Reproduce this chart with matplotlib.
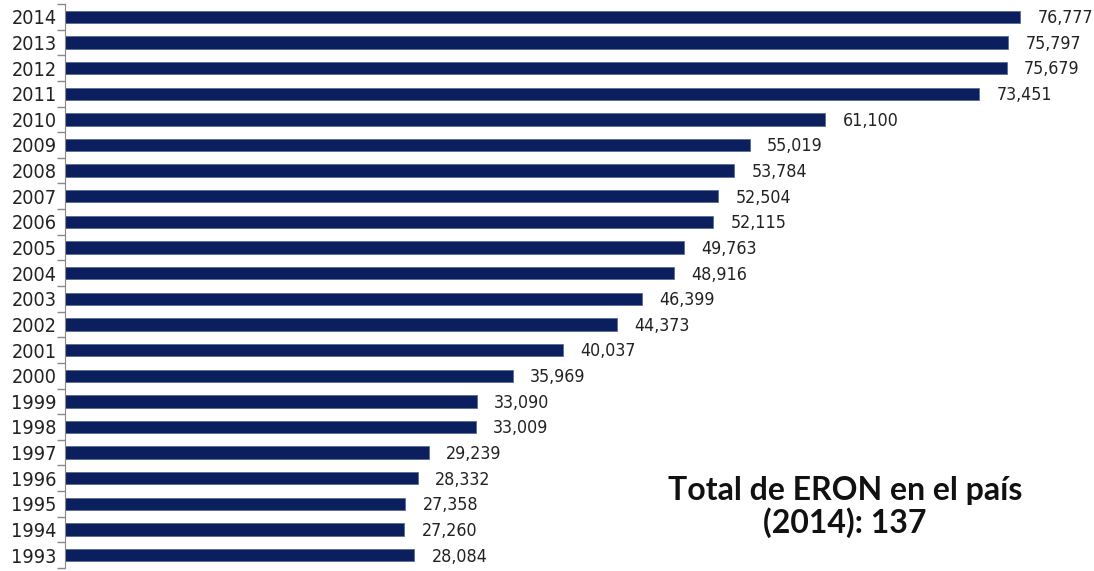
import matplotlib.pyplot as plt
from matplotlib import font_manager
import numpy as np

years = [1993, 1994, 1995, 1996, 1997, 1998, 1999, 2000, 2001, 2002, 2003,
         2004, 2005, 2006, 2007, 2008, 2009, 2010, 2011, 2012, 2013, 2014]
values = [28084, 27260, 27358, 28332, 29239, 33009, 33090, 35969, 40037,
          44373, 46399, 48916, 49763, 52115, 52504, 53784, 55019, 61100,
          73451, 75679, 75797, 76777]
note = "Total de ERON en el país\n(2014): 137"

# look for a condensed/narrow face, the reference uses an Arial Narrow look
narrow_family, narrow_stretch, size_scale = 'Liberation Sans', 'normal', 0.9
for f in font_manager.fontManager.ttflist:
    if 'Narrow' in f.name and 'Liberation' in f.name:
        narrow_family, narrow_stretch, size_scale = f.name, 'normal', 1.0
        break
else:
    for f in font_manager.fontManager.ttflist:
        if f.name == 'DejaVu Sans' and f.stretch in ('condensed', 'semi-condensed', 600, 700) \
                and f.weight in ('normal', 400):
            narrow_family, narrow_stretch, size_scale = 'DejaVu Sans', 'condensed', 0.95
            break

fig = plt.figure(figsize=(10.94, 5.71), dpi=100)
ax = fig.add_axes([65 / 1094, 3 / 571, 1 - 65 / 1094, 564 / 571])

y = np.arange(len(years))
ax.barh(y, values, height=0.48, color='#0b1f5e', edgecolor='#5a6c96', linewidth=0.6)

for yi, v in zip(y, values):
    ax.annotate(f"{v:,}", (v, yi), xytext=(12.5, -1), textcoords='offset points',
                ha='left', va='center', fontsize=13.5 * size_scale,
                family=narrow_family, fontstretch=narrow_stretch, color='#222222')

ax.set_xlim(0, 82700)
ax.set_ylim(-0.5, len(years) - 0.5)
ax.set_yticks(y)
ax.set_yticklabels([str(yr) for yr in years], family=narrow_family,
                   fontstretch=narrow_stretch, fontsize=15 * size_scale, color='#222222')
ax.set_yticks(np.arange(-0.5, len(years), 1), minor=True)
ax.tick_params(axis='y', which='major', length=0, pad=6)
ax.tick_params(axis='y', which='minor', length=6, color='#888888', width=1)
ax.set_xticks([])
for s in ['top', 'right', 'bottom']:
    ax.spines[s].set_visible(False)
ax.spines['left'].set_color('#888888')

fig.text(845 / 1094, 1 - 507 / 571, note, ha='center', va='center',
         fontsize=23, family=['Lato', 'DejaVu Sans'], fontweight='bold',
         linespacing=1.05, color='#111111')

fig.savefig('out.png', dpi=100)
